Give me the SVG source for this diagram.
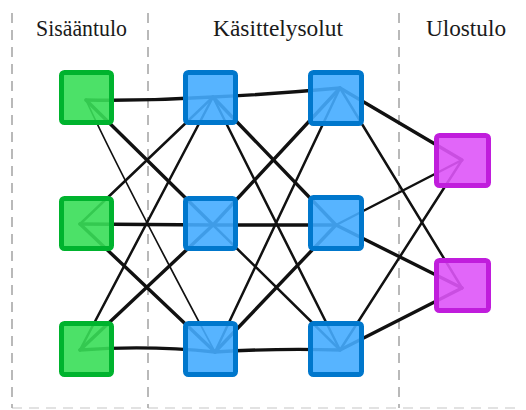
<svg xmlns="http://www.w3.org/2000/svg" width="526" height="410" viewBox="0 0 526 410">
  <style>
    .title { font-family: "Liberation Serif", "Times New Roman", serif; font-size: 23px; fill: #1a1a1a; text-anchor: middle; }
    .divider { stroke: #a8a8a8; stroke-width: 1.6; stroke-dasharray: 10 7; fill: none; }
    .edge { stroke: #111; fill: none; stroke-linecap: round; }
    .w1 { stroke-width: 1.7; }
    .w2 { stroke-width: 2.5; }
    .w3 { stroke-width: 3.4; }
    .node rect { stroke-width: 5; fill-opacity: 0.9; }
    .input rect { fill: #38de58; stroke: #00b32e; }
    .hidden rect { fill: #45acff; stroke: #0077cc; }
    .output rect { fill: #de55f8; stroke: #c01ddc; }
  </style>

  <!-- column dividers -->
  <g id="dividers">
    <line class="divider" x1="12" y1="13" x2="12" y2="408"/>
    <line class="divider" x1="148" y1="13" x2="148" y2="408"/>
    <line class="divider" x1="399" y1="13" x2="399" y2="408"/>
    <line class="divider" x1="12" y1="408" x2="520" y2="408" stroke-opacity="0.45"/>
  </g>

  <!-- column titles -->
  <g id="titles">
    <text class="title" x="81.5" y="36" textLength="91" lengthAdjust="spacingAndGlyphs">Sisääntulo</text>
    <text class="title" x="278" y="36" textLength="130" lengthAdjust="spacingAndGlyphs">Käsittelysolut</text>
    <text class="title" x="466" y="36" textLength="80" lengthAdjust="spacingAndGlyphs">Ulostulo</text>
  </g>

  <!-- connectors -->
  <g id="connectors">
    <!-- input -> hidden 1 -->
    <path class="edge w3" d="M86,100 Q150,101 213,97"/>
    <path class="edge w3" d="M86,100 L213,225"/>
    <path class="edge w1" d="M86,100 Q118,170 215,352"/>
    <path class="edge w2" d="M80,224 L213,97"/>
    <path class="edge w3" d="M80,224 L213,225"/>
    <path class="edge w3" d="M80,224 L215,352"/>
    <path class="edge w2" d="M80,350 L213,97"/>
    <path class="edge w3" d="M80,350 L213,225"/>
    <path class="edge w3" d="M80,350 Q148,345 215,352"/>
    <!-- hidden 1 -> hidden 2 -->
    <path class="edge w3" d="M213,97 Q275,94 340,88"/>
    <path class="edge w3" d="M213,97 L336,225"/>
    <path class="edge w2" d="M213,97 L340,350"/>
    <path class="edge w3" d="M213,225 L340,88"/>
    <path class="edge w3" d="M213,225 L336,225"/>
    <path class="edge w2" d="M213,225 L340,350"/>
    <path class="edge w2" d="M215,352 L340,88"/>
    <path class="edge w3" d="M215,352 L336,225"/>
    <path class="edge w3" d="M215,352 Q278,348 340,350"/>
    <!-- hidden 2 -> output -->
    <path class="edge w3" d="M340,88 L462,160"/>
    <path class="edge w2" d="M340,88 L462,288"/>
    <path class="edge w2" d="M336,225 L462,160"/>
    <path class="edge w3" d="M336,225 L462,288"/>
    <path class="edge w2" d="M340,350 L462,160"/>
    <path class="edge w3" d="M340,350 L462,288" stroke-width="4"/>
  </g>

  <!-- input layer -->
  <g id="in1" class="node input"><rect x="61.5" y="72.5" width="50" height="50" rx="3"/></g>
  <g id="in2" class="node input"><rect x="61.5" y="198.5" width="50" height="50" rx="3"/></g>
  <g id="in3" class="node input"><rect x="61.5" y="323.5" width="50" height="51" rx="3"/></g>

  <!-- processing layer 1 -->
  <g id="h1a" class="node hidden"><rect x="185.5" y="72.5" width="50" height="50" rx="3"/></g>
  <g id="h1b" class="node hidden"><rect x="185.5" y="198.5" width="50" height="50" rx="3"/></g>
  <g id="h1c" class="node hidden"><rect x="185.5" y="323.5" width="50" height="51" rx="3"/></g>

  <!-- processing layer 2 -->
  <g id="h2a" class="node hidden"><rect x="310.5" y="72.5" width="51" height="51" rx="3"/></g>
  <g id="h2b" class="node hidden"><rect x="310.5" y="197.5" width="51" height="51" rx="3"/></g>
  <g id="h2c" class="node hidden"><rect x="310.5" y="323.5" width="51" height="51" rx="3"/></g>

  <!-- output layer -->
  <g id="out1" class="node output"><rect x="436.5" y="135.5" width="52" height="50" rx="3"/></g>
  <g id="out2" class="node output"><rect x="436.5" y="260.5" width="52" height="50" rx="3"/></g>
</svg>
